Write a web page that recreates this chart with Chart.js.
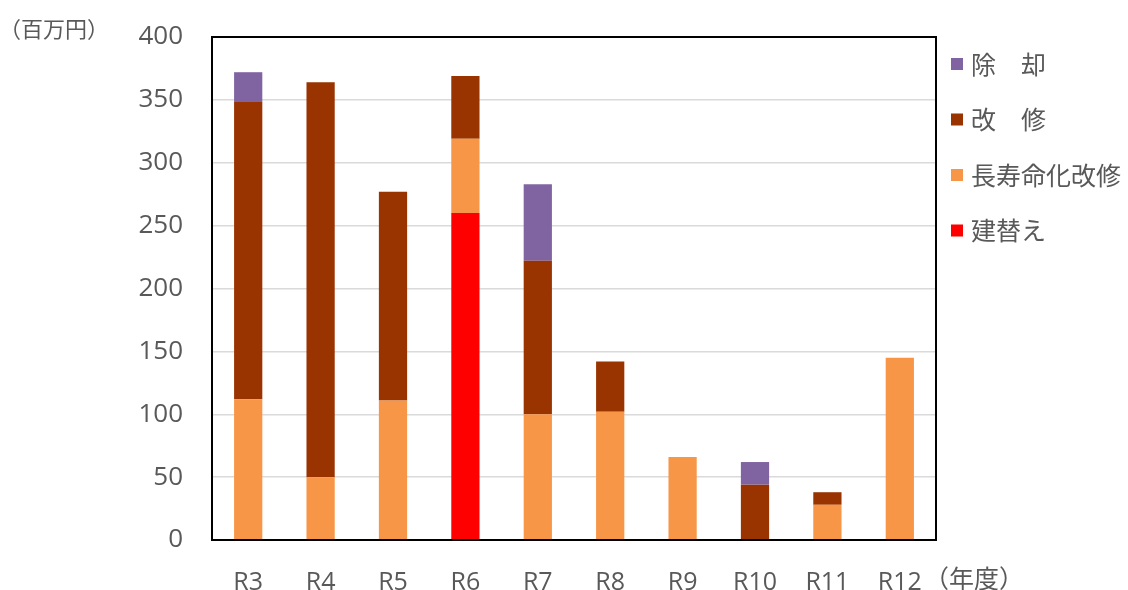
<!DOCTYPE html>
<html>
<head>
<meta charset="utf-8">
<script src="https://cdn.jsdelivr.net/npm/chart.js@4/dist/chart.umd.min.js"></script>
<style>
  html, body { margin: 0; padding: 0; background: #ffffff; }
  #wrap { position: relative; width: 1128px; height: 590px; }
</style>
</head>
<body>
<div id="wrap"><canvas id="c" width="1128" height="590"></canvas></div>
<script>
// 年度別の事業費（百万円）
const years = ['R3', 'R4', 'R5', 'R6', 'R7', 'R8', 'R9', 'R10', 'R11', 'R12'];
const rebuild   = [0, 0, 0, 260, 0, 0, 0, 0, 0, 0];                 // 建替え
const longLife  = [112, 50, 111, 59, 100, 102, 66, 0, 28, 145];      // 長寿命化改修
const repair    = [237, 314, 166, 50, 122, 40, 0, 44, 10, 0];        // 改修
const removal   = [23, 0, 0, 0, 61, 0, 0, 18, 0, 0];                 // 除却
const yTicks    = [0, 50, 100, 150, 200, 250, 300, 350, 400];

const JP = '"Noto Sans CJK JP", "Noto Sans", sans-serif';
const NUM = '"Open Sans", "Noto Sans", sans-serif';
const TEXT = '#595959';

const series = [
  { label: '建替え',       data: rebuild,  color: '#ff0000' },
  { label: '長寿命化改修', data: longLife, color: '#f79646' },
  { label: '改　修',       data: repair,   color: '#993300' },
  { label: '除　却',       data: removal,  color: '#8064a2' }
];

// 枠線・単位・凡例を描くプラグイン
const decor = {
  id: 'decor',
  afterDraw(chart) {
    const { ctx, chartArea: a } = chart;
    ctx.save();
    ctx.strokeStyle = '#000000';
    ctx.lineWidth = 2;
    ctx.strokeRect(a.left, a.top, a.right - a.left, a.bottom - a.top);

    ctx.fillStyle = TEXT;
    ctx.textBaseline = 'middle';
    ctx.textAlign = 'left';
    ctx.font = '22px ' + JP;
    ctx.fillText('（百万円）', -1, 29);
    ctx.font = '25px ' + JP;
    ctx.fillText('（年度）', 924, 578);

    // 凡例（積み上げ順の逆）
    const items = chart.data.datasets.slice().reverse();
    items.forEach((ds, i) => {
      const y = 64 + i * 55.5;
      ctx.fillStyle = ds.backgroundColor;
      ctx.fillRect(951, y - 6, 12, 12);
      ctx.fillStyle = TEXT;
      ctx.font = '25px ' + JP;
      ctx.fillText(ds.label, 971, y);
    });
    ctx.restore();
  }
};

new Chart(document.getElementById('c'), {
  type: 'bar',
  data: {
    labels: years,
    datasets: series.map(s => ({
      label: s.label,
      data: s.data,
      backgroundColor: s.color,
      borderWidth: 0,
      categoryPercentage: 1.0,
      barPercentage: 0.39
    }))
  },
  options: {
    responsive: false,
    animation: false,
    devicePixelRatio: 1,
    layout: { padding: { left: 0, right: 192, top: 37, bottom: 0 } },
    plugins: { legend: { display: false }, tooltip: { enabled: false } },
    scales: {
      x: {
        stacked: true,
        grid: { display: false },
        border: { display: false },
        ticks: { color: TEXT, font: { family: NUM, size: 25 }, padding: 20, maxRotation: 0 },
        afterFit(s) { s.height = 50; }
      },
      y: {
        stacked: true,
        min: 0,
        max: 400,
        afterBuildTicks(s) { s.ticks = yTicks.map(v => ({ value: v })); },
        grid: { color: '#dadada', lineWidth: 1.5, drawTicks: false },
        border: { display: false },
        ticks: { color: TEXT, font: { family: NUM, size: 26 }, padding: 29 },
        afterFit(s) { s.width = 212; s.paddingTop = 0; s.paddingBottom = 0; }
      }
    }
  },
  plugins: [decor]
});
</script>
</body>
</html>
